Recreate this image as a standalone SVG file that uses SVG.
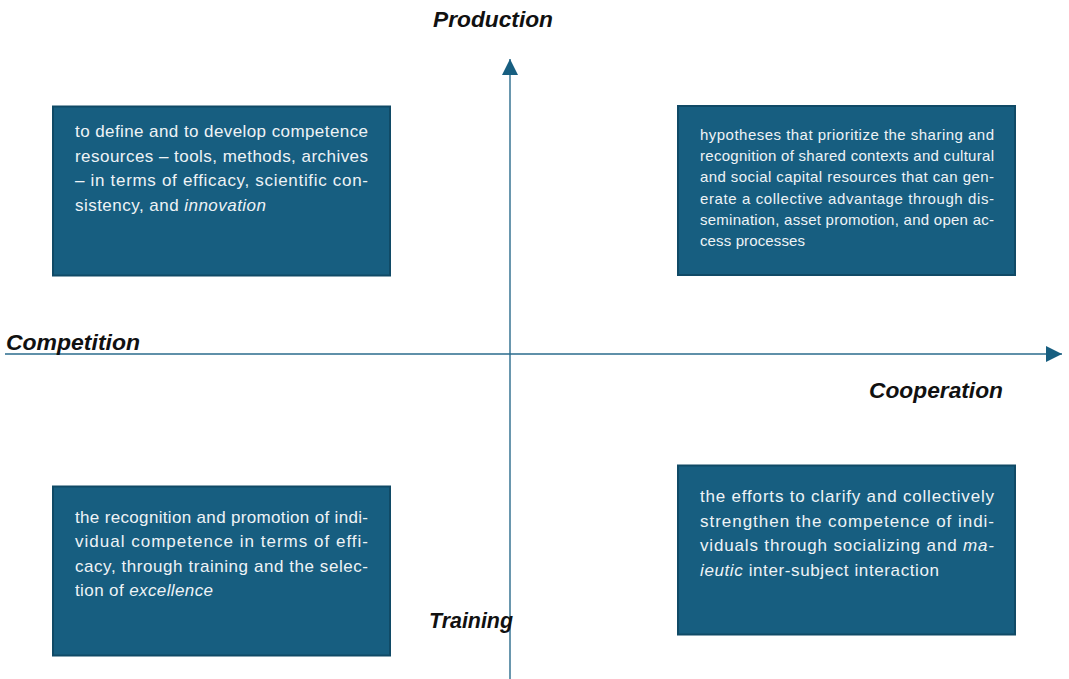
<svg xmlns="http://www.w3.org/2000/svg" width="1069" height="679" viewBox="0 0 1069 679">
<style>
.box{fill:#175e80;stroke:#104a66;stroke-width:2}
.t{font-family:"Liberation Sans",Arial,sans-serif;font-size:17px;fill:#eef3f6}
.ts{font-family:"Liberation Sans",Arial,sans-serif;font-size:15px;fill:#eef3f6}
.lbl{font-family:"Liberation Sans",Arial,sans-serif;font-size:22px;font-weight:bold;font-style:italic;fill:#111}
.ax{stroke:#2a6b8c;stroke-width:1.4;fill:none}
</style>
<defs>
<marker id="ah" viewBox="0 0 16 16" refX="16" refY="8" markerWidth="16" markerHeight="16" markerUnits="userSpaceOnUse" orient="auto">
<path d="M0,0 L16,8 L0,16 Z" fill="#175e80"/>
</marker>
</defs>
<rect width="1069" height="679" fill="#fff"/>
<g id="connectors">
<line class="ax" x1="510" y1="679" x2="510" y2="59" marker-end="url(#ah)"/>
<line class="ax" x1="5" y1="354" x2="1062" y2="354" marker-end="url(#ah)"/>
</g>
<g id="label-production"><text class="lbl" x="433" y="27" textLength="120" lengthAdjust="spacingAndGlyphs">Production</text></g>
<g id="label-competition"><text class="lbl" x="6" y="350" textLength="134" lengthAdjust="spacingAndGlyphs">Competition</text></g>
<g id="label-cooperation"><text class="lbl" x="869" y="398" textLength="134" lengthAdjust="spacingAndGlyphs">Cooperation</text></g>
<g id="label-training"><text class="lbl" x="429" y="628" textLength="84" lengthAdjust="spacingAndGlyphs">Training</text></g>
<g id="box-tl">
<rect class="box" x="53" y="106.5" width="337" height="169"/>
<text class="t" x="75" y="137" textLength="293" lengthAdjust="spacing">to define and to develop competence</text>
<text class="t" x="75" y="161.5" textLength="293" lengthAdjust="spacing">resources – tools, methods, archives</text>
<text class="t" x="75" y="186" textLength="293" lengthAdjust="spacing">– in terms of efficacy, scientific con-</text>
<text class="t" x="75" y="210.5" textLength="191" lengthAdjust="spacing">sistency, and <tspan font-style="italic">innovation</tspan></text>
</g>
<g id="box-tr">
<rect class="box" x="678" y="106" width="337" height="169"/>
<text class="ts" x="700" y="140" textLength="294" lengthAdjust="spacing">hypotheses that prioritize the sharing and</text>
<text class="ts" x="700" y="161.2" textLength="294" lengthAdjust="spacing">recognition of shared contexts and cultural</text>
<text class="ts" x="700" y="182.4" textLength="294" lengthAdjust="spacing">and social capital resources that can gen-</text>
<text class="ts" x="700" y="203.6" textLength="294" lengthAdjust="spacing">erate a collective advantage through dis-</text>
<text class="ts" x="700" y="224.8" textLength="294" lengthAdjust="spacing">semination, asset promotion, and open ac-</text>
<text class="ts" x="700" y="246" textLength="105" lengthAdjust="spacing">cess processes</text>
</g>
<g id="box-bl">
<rect class="box" x="53" y="486.5" width="337" height="169"/>
<text class="t" x="75" y="522.5" textLength="293" lengthAdjust="spacing">the recognition and promotion of indi-</text>
<text class="t" x="75" y="547" textLength="293" lengthAdjust="spacing">vidual competence in terms of effi-</text>
<text class="t" x="75" y="571.5" textLength="293" lengthAdjust="spacing">cacy, through training and the selec-</text>
<text class="t" x="75" y="596" textLength="138" lengthAdjust="spacing">tion of <tspan font-style="italic">excellence</tspan></text>
</g>
<g id="box-br">
<rect class="box" x="678" y="465.5" width="337" height="169"/>
<text class="t" x="700" y="502" textLength="294" lengthAdjust="spacing">the efforts to clarify and collectively</text>
<text class="t" x="700" y="526.5" textLength="294" lengthAdjust="spacing">strengthen the competence of indi-</text>
<text class="t" x="700" y="551" textLength="294" lengthAdjust="spacing">viduals through socializing and <tspan font-style="italic">ma-</tspan></text>
<text class="t" x="700" y="575.5" textLength="239" lengthAdjust="spacing"><tspan font-style="italic">ieutic</tspan> inter-subject interaction</text>
</g>
</svg>
